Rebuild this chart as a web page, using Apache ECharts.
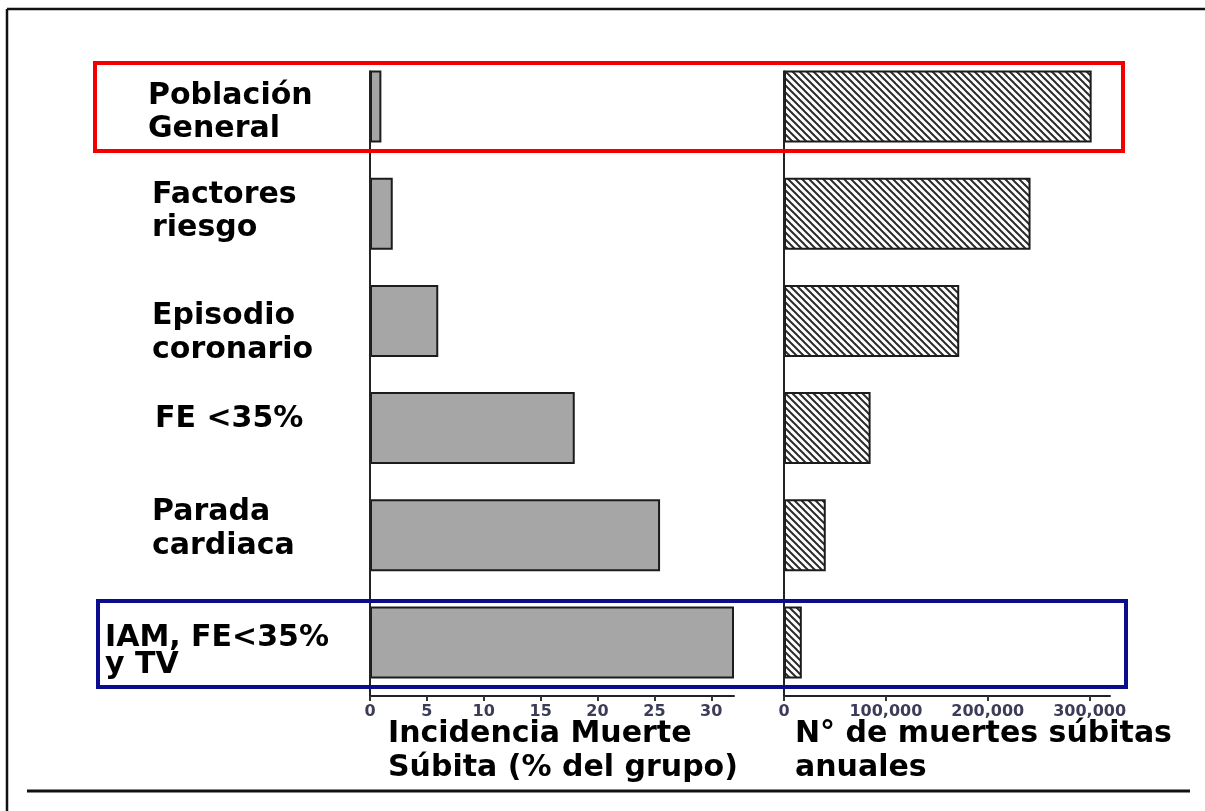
<!DOCTYPE html>
<html>
<head>
<meta charset="utf-8">
<script src="https://cdn.jsdelivr.net/npm/echarts@6/dist/echarts.min.js"></script>
<style>
  html, body { margin: 0; padding: 0; background: #fff; }
  #chart { width: 1205px; height: 811px; }
</style>
</head>
<body>
<div id="chart"></div>
<script>
// Risk groups, top to bottom
const categories = ['Población\nGeneral', 'Factores\nriesgo', 'Episodio\ncoronario', 'FE <35%', 'Parada\ncardiaca', 'IAM, FE<35%\ny TV'];
// Sudden-death incidence, % of each group
const incidencePct = [1, 2, 6, 18, 25.5, 32];
// Absolute number of sudden deaths per year
const annualDeaths = [302000, 242000, 172000, 85000, 41000, 17500];
// Tick values of both x axes
const pctTicks = [0, 5, 10, 15, 20, 25, 30];
const deathTicks = [0, 100000, 200000, 300000];
// Axis titles
const pctTitle = ['Incidencia Muerte', 'Súbita (% del grupo)'];
const deathTitle = ['N° de muertes súbitas', 'anuales'];

// Label styling per category (left edge, vertical nudge, line height)
const labelLeft = [148, 152, 152, 155, 152, 105];
const labelNudge = [6, -2, 12, -9, -6, 9];
const labelLineHeight = [33, 33, 34, 33, 34, 27];

const BAR_W = 72;
const BOLD = 'bold 30px "DejaVu Sans"';

// Diagonal hatch tile for the annual-deaths bars
function hatchPattern() {
  const s = 7;
  const c = document.createElement('canvas');
  c.width = s; c.height = s;
  const g = c.getContext('2d');
  g.fillStyle = '#ffffff';
  g.fillRect(0, 0, s, s);
  g.strokeStyle = '#2b2b2b';
  g.lineWidth = 2;
  for (let k = -1; k <= 1; k++) {
    g.beginPath();
    g.moveTo(k * s - 1, -1);
    g.lineTo(k * s + s + 1, s + 1);
    g.stroke();
  }
  return { image: c, repeat: 'repeat' };
}

const axisCommon = {
  type: 'value',
  axisLine: { show: true, onZero: false, lineStyle: { color: '#222', width: 2 } },
  axisTick: { show: true, length: 5, lineStyle: { color: '#333', width: 2 } },
  splitLine: { show: false },
  axisLabel: { margin: 8, color: '#3c3c58', fontFamily: 'DejaVu Sans', fontWeight: 'bold', fontSize: 16 }
};

const chart = echarts.init(document.getElementById('chart'), null, { renderer: 'canvas' });

chart.setOption({
  backgroundColor: '#ffffff',
  animation: false,
  grid: [
    { left: 370, top: 53, width: 364, height: 643 },
    { left: 784, top: 53, width: 326, height: 643 }
  ],
  xAxis: [
    Object.assign({}, axisCommon, {
      gridIndex: 0, min: 0, max: 32,
      axisTick: Object.assign({}, axisCommon.axisTick, { customValues: pctTicks }),
      axisLabel: Object.assign({}, axisCommon.axisLabel, { customValues: pctTicks })
    }),
    Object.assign({}, axisCommon, {
      gridIndex: 1, min: 0, max: 320000,
      axisTick: Object.assign({}, axisCommon.axisTick, { customValues: deathTicks }),
      axisLabel: Object.assign({}, axisCommon.axisLabel, {
        customValues: deathTicks,
        formatter: v => v.toLocaleString('en-US')
      })
    })
  ],
  yAxis: [0, 1].map(i => ({
    type: 'category', gridIndex: i, inverse: true, data: categories,
    axisLine: { show: false }, axisTick: { show: false }, axisLabel: { show: false },
    splitLine: { show: false }
  })),
  series: [
    {
      type: 'bar', xAxisIndex: 0, yAxisIndex: 0, data: incidencePct, barWidth: BAR_W,
      itemStyle: { color: '#a6a6a6', borderColor: '#1c1c1c', borderWidth: 2 }
    },
    {
      type: 'bar', xAxisIndex: 1, yAxisIndex: 1, data: annualDeaths, barWidth: BAR_W,
      itemStyle: { color: hatchPattern(), borderColor: '#1c1c1c', borderWidth: 2 }
    }
  ]
});

// Frame, vertical axis lines, category labels, axis titles and highlight boxes
const yc = categories.map(c => chart.convertToPixel({ yAxisIndex: 0 }, c));
const xLeft0 = chart.convertToPixel({ xAxisIndex: 0 }, 0);
const xRight0 = chart.convertToPixel({ xAxisIndex: 1 }, 0);
const axisY = 53 + 643;
const lineTop = yc[0] - BAR_W / 2;

const graphics = [
  { type: 'line', shape: { x1: 7, y1: 9, x2: 7, y2: 811 }, style: { stroke: '#111', lineWidth: 2.5 } },
  { type: 'line', shape: { x1: 7, y1: 9, x2: 1205, y2: 9 }, style: { stroke: '#111', lineWidth: 2.5 } },
  { type: 'line', shape: { x1: 27, y1: 791, x2: 1190, y2: 791 }, style: { stroke: '#111', lineWidth: 3 } },
  { type: 'line', z: 10, shape: { x1: xLeft0, y1: lineTop, x2: xLeft0, y2: axisY }, style: { stroke: '#222', lineWidth: 2 } },
  { type: 'line', z: 10, shape: { x1: xRight0, y1: lineTop, x2: xRight0, y2: axisY }, style: { stroke: '#222', lineWidth: 2 } },
  { type: 'rect', z: 20, shape: { x: 95, y: 63, width: 1028, height: 88 }, style: { fill: 'none', stroke: '#f20000', lineWidth: 4 } },
  { type: 'rect', z: 20, shape: { x: 98, y: 601, width: 1028, height: 86 }, style: { fill: 'none', stroke: '#0c0c8e', lineWidth: 4 } }
];

categories.forEach((c, i) => {
  graphics.push({
    type: 'text', z: 15,
    style: {
      text: c, x: labelLeft[i], y: yc[i] + labelNudge[i],
      font: BOLD, fill: '#000', lineHeight: labelLineHeight[i],
      align: 'left', verticalAlign: 'middle'
    }
  });
});

[[pctTitle, xLeft0 + 18], [deathTitle, xRight0 + 11]].forEach(([t, x]) => {
  graphics.push({
    type: 'text', z: 15,
    style: {
      text: t.join('\n'), x: x, y: 751, font: BOLD, fill: '#000',
      lineHeight: 34, align: 'left', verticalAlign: 'middle'
    }
  });
});

chart.setOption({ graphic: graphics });
</script>
</body>
</html>
